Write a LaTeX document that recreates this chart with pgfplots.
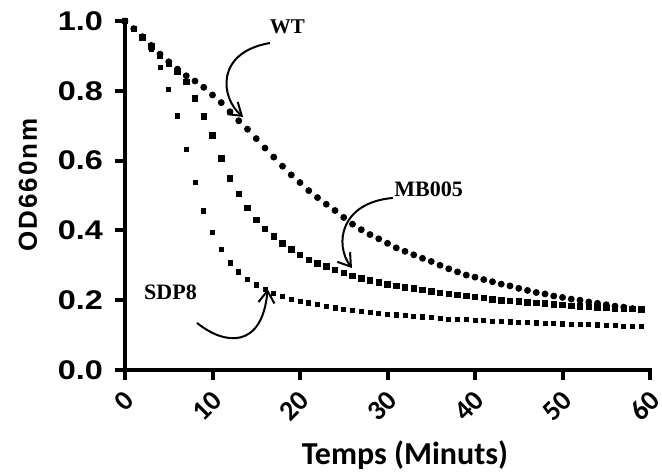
\documentclass[border=0pt]{standalone}
\usepackage{fontspec}
\usepackage{pgfplots}
\usepackage{pgfplotstable}
\pgfplotsset{compat=1.18}
\usetikzlibrary{arrows.meta}
\setmainfont{Liberation Sans}
\newfontfamily\carlito{Carlito}
\newfontfamily\antique{Liberation Serif}
\newfontfamily\widearial[FakeStretch=1.2]{Liberation Sans}

% OD660 readings, one row per minute
\pgfplotstableread{
t wt mb sdp
0 1.000 1.000 1.000
1 0.978 0.977 0.975
2 0.955 0.953 0.950
3 0.930 0.928 0.920
4 0.905 0.902 0.868
5 0.883 0.878 0.805
6 0.862 0.855 0.728
7 0.843 0.826 0.632
8 0.828 0.778 0.537
9 0.810 0.726 0.456
10 0.788 0.673 0.395
11 0.766 0.606 0.345
12 0.740 0.549 0.307
13 0.714 0.504 0.281
14 0.690 0.464 0.259
15 0.663 0.430 0.244
16 0.636 0.404 0.231
17 0.610 0.382 0.219
18 0.584 0.363 0.210
19 0.559 0.346 0.203
20 0.537 0.330 0.197
21 0.514 0.316 0.192
22 0.494 0.306 0.187
23 0.475 0.296 0.183
24 0.457 0.287 0.178
25 0.437 0.278 0.174
26 0.418 0.270 0.170
27 0.402 0.263 0.167
28 0.388 0.257 0.165
29 0.376 0.251 0.162
30 0.363 0.246 0.160
31 0.350 0.241 0.158
32 0.340 0.237 0.156
33 0.330 0.233 0.154
34 0.320 0.229 0.152
35 0.311 0.225 0.150
36 0.300 0.221 0.148
37 0.290 0.218 0.146
38 0.281 0.215 0.145
39 0.272 0.212 0.144
40 0.266 0.209 0.142
41 0.259 0.206 0.141
42 0.253 0.203 0.140
43 0.246 0.200 0.139
44 0.241 0.198 0.138
45 0.234 0.196 0.137
46 0.228 0.194 0.136
47 0.222 0.192 0.135
48 0.218 0.190 0.134
49 0.212 0.188 0.133
50 0.208 0.186 0.132
51 0.203 0.184 0.131
52 0.200 0.182 0.130
53 0.195 0.181 0.130
54 0.191 0.180 0.129
55 0.187 0.178 0.128
56 0.183 0.177 0.127
57 0.180 0.176 0.126
58 0.176 0.175 0.125
59 0.173 0.174 0.124
}\lysis

\begin{document}
\begin{tikzpicture}
\useasboundingbox (0,0) rectangle (331pt,237pt);
\begin{axis}[
    at={(62.5pt,52pt)}, anchor=south west,
    scale only axis,
    width=262.5pt, height=174.5pt,
    xmin=0, xmax=60, ymin=0, ymax=1,
    axis lines*=left,
    axis line style={line width=2.2pt, line cap=rect},
    tick style={line width=2pt, black},
    tick align=outside,
    major tick length=5pt,
    xtick={0,10,...,60},
    ytick={0,0.2,0.4,0.6,0.8,1},
    clip=false,
    /pgf/number format/assume math mode=true,
    yticklabel style={font=\widearial\bfseries\fontsize{13.5}{13.5}\selectfont, xshift=-2.5pt,
        /pgf/number format/.cd, fixed, fixed zerofill, precision=1},
    xticklabel style={font=\carlito\bfseries\fontsize{14}{14}\selectfont,
        yshift=-3pt, xshift=-1pt, rotate=45, anchor=north east, inner sep=1pt},
    every axis x label/.style={at={(axis cs:32,-0.27)}, anchor=base,
        font=\carlito\bfseries\fontsize{16}{16}\selectfont},
    every axis y label/.style={at={(axis cs:-11.1,0.53)}, anchor=center, rotate=90,
        font=\bfseries\fontsize{13}{13}\selectfont\addfontfeatures{LetterSpace=8}},
    xlabel={Temps (Minuts)},
    ylabel={OD660nm},
]
\addplot[only marks, mark=*, mark size=1.5pt, black] table[x=t, y=wt] {\lysis};
\addplot[only marks, mark=square*, mark size=1.4pt, black] table[x=t, y=mb] {\lysis};
\addplot[only marks, mark=square*, mark size=1.05pt, black] table[x=t, y=sdp] {\lysis};

\node[font=\antique\bfseries\fontsize{10.5}{10.5}\selectfont] at (axis cs:18.57,0.983) {WT};
\node[font=\antique\bfseries\fontsize{11}{11}\selectfont] at (axis cs:34.69,0.519) {MB005};
\node[font=\antique\bfseries\fontsize{11}{11}\selectfont] at (axis cs:5.2,0.223) {SDP8};

\draw[line width=1pt, -{Straight Barb[length=6pt, width=8pt]}]
    (axis cs:16.57,0.937) .. controls (axis cs:10.3,0.91) and (axis cs:10.9,0.78) .. (axis cs:13.5,0.725);
\draw[line width=1pt, -{Straight Barb[length=6pt, width=8pt]}]
    (axis cs:30.63,0.493) .. controls (axis cs:24.6,0.48) and (axis cs:23.9,0.36) .. (axis cs:25.94,0.292);
\draw[line width=1pt, -{Straight Barb[length=6pt, width=8pt]}]
    (axis cs:8.23,0.135) .. controls (axis cs:11.4,0.07) and (axis cs:15.7,0.06) .. (axis cs:16.3,0.232);
\end{axis}
\end{tikzpicture}
\end{document}
